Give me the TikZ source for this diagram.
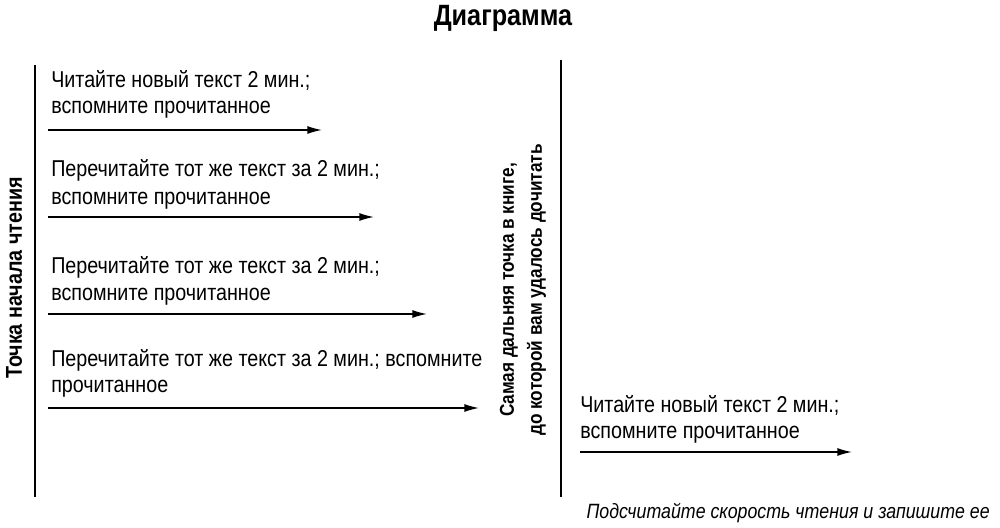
\documentclass[tikz,border=0pt]{standalone}
\usepackage{fontspec}
\setmainfont[FakeStretch=0.86]{Liberation Sans}
\usetikzlibrary{arrows.meta}
\begin{document}
\begin{tikzpicture}[x=0.75pt,y=-0.75pt,
  txt/.style={anchor=west,font=\fontsize{17.2}{20}\selectfont,inner sep=0},
  arr/.style={line width=1.1pt,-{Latex[length=11pt,width=6pt]}},
  vline/.style={line width=1.1pt}]
\useasboundingbox (0,0) rectangle (1000,528);
\node[font=\bfseries\fontsize{22}{26}\selectfont] (title) at (503,18) {Диаграмма};
\coordinate (l1) at (35,65); \coordinate (l2) at (35,497);
\draw[vline] (l1) -- (l2);
\coordinate (m1) at (561,60); \coordinate (m2) at (561,497);
\draw[vline] (m1) -- (m2);
\node[rotate=90,font=\bfseries\fontsize{17.2}{20}\selectfont] (start) at (14,278) {Точка начала чтения};
\node[rotate=90,font=\bfseries\fontsize{15}{21}\selectfont,align=center] (far) at (523,290) {Самая дальняя точка в книге,\\до которой вам удалось дочитать};
\node[txt] (t1a) at (51,80) {Читайте новый текст 2 мин.;};
\node[txt] (t1b) at (51,110) {вспомните прочитанное};
\coordinate (a1s) at (48,130); \coordinate (a1e) at (322,130);
\draw[arr] (a1s) -- (a1e);
\node[txt] (t2a) at (51,170) {Перечитайте тот же текст за 2 мин.;};
\node[txt] (t2b) at (51,201) {вспомните прочитанное};
\coordinate (a2s) at (48,217); \coordinate (a2e) at (374,217);
\draw[arr] (a2s) -- (a2e);
\node[txt] (t3a) at (51,267) {Перечитайте тот же текст за 2 мин.;};
\node[txt] (t3b) at (51,297) {вспомните прочитанное};
\coordinate (a3s) at (48,314); \coordinate (a3e) at (427,314);
\draw[arr] (a3s) -- (a3e);
\node[txt] (t4a) at (51,360) {Перечитайте тот же текст за 2 мин.; вспомните};
\node[txt] (t4b) at (51,389) {прочитанное};
\coordinate (a4s) at (48,408); \coordinate (a4e) at (479,408);
\draw[arr] (a4s) -- (a4e);
\node[txt] (t5a) at (580,405) {Читайте новый текст 2 мин.;};
\node[txt] (t5b) at (580,435) {вспомните прочитанное};
\coordinate (a5s) at (580,452); \coordinate (a5e) at (852,452);
\draw[arr] (a5s) -- (a5e);
\node[anchor=east,inner sep=0,font=\itshape\fontsize{15.5}{17}\selectfont] (foot) at (990,513) {Подсчитайте скорость чтения и запишите ее};
\end{tikzpicture}
\end{document}
